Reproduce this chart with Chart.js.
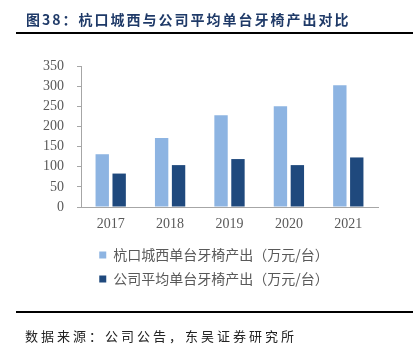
<!DOCTYPE html>
<html>
<head>
<meta charset="utf-8">
<script src="https://cdn.jsdelivr.net/npm/chart.js@4/dist/chart.umd.min.js"></script>
<style>
  html, body { margin: 0; padding: 0; background: #fff; }
  #wrap { position: relative; width: 416px; height: 351px; overflow: hidden; }
  #wrap canvas { position: absolute; left: 0; top: 0; }
  .title { position: absolute; left: 26px; top: 9px; font: bold 14px "Noto Sans CJK SC", sans-serif; letter-spacing: 2px; color: #1F3A68; white-space: nowrap; }
  .rule { position: absolute; left: 16px; width: 397px; height: 2px; background: #000; }
  .source { position: absolute; left: 25px; top: 326px; font: 13px "Noto Sans CJK SC", sans-serif; letter-spacing: 3px; color: #222; white-space: nowrap; }
</style>
</head>
<body>
<div id="wrap">
  <canvas id="chart" width="416" height="351"></canvas>
  <div class="title">图38：杭口城西与公司平均单台牙椅产出对比</div>
  <div class="rule" style="top:32px"></div>
  <div class="rule" style="top:311px"></div>
  <div class="source">数据来源：公司公告，东吴证券研究所</div>
</div>
<script>
const years = ["2017", "2018", "2019", "2020", "2021"];
const hangkouOutput = [131, 171, 228, 250, 302];
const companyOutput = [83, 104, 119, 104, 123];
const yTicks = [0, 50, 100, 150, 200, 250, 300, 350];

const axisGray = "#A6A6A6";
const tickFont = { family: "'Liberation Serif', 'Times New Roman', serif", size: 14 };

// legend sits a little right of the canvas centre in the original
const nudgeLegend = {
  id: "nudgeLegend",
  afterLayout(chart) {
    chart.legend.left += 4;
    chart.legend.right += 4;
  },
};

new Chart(document.getElementById("chart").getContext("2d"), {
  type: "bar",
  data: {
    labels: years,
    datasets: [
      {
        label: "杭口城西单台牙椅产出（万元/台）",
        data: hangkouOutput,
        backgroundColor: "#8DB4E2",
        categoryPercentage: 0.57,
        barPercentage: 0.79,
      },
      {
        label: "公司平均单台牙椅产出（万元/台）",
        data: companyOutput,
        backgroundColor: "#1F497D",
        categoryPercentage: 0.57,
        barPercentage: 0.79,
      },
    ],
  },
  plugins: [nudgeLegend],
  options: {
    responsive: false,
    animation: false,
    layout: { padding: { left: 42, right: 38, top: 66, bottom: 55 } },
    plugins: {
      tooltip: { enabled: false },
      legend: {
        position: "bottom",
        labels: {
          boxWidth: 7,
          boxHeight: 7,
          padding: 10,
          color: "#595959",
          font: { family: "'Noto Sans CJK SC', sans-serif", size: 14 },
        },
      },
    },
    scales: {
      x: {
        grid: { display: false, drawTicks: false },
        border: { display: true, color: axisGray, width: 1 },
        ticks: { color: "#595959", font: tickFont, padding: 8.6 },
        afterFit: (s) => { s.height = 31; },
      },
      y: {
        min: 0,
        max: 350,
        afterBuildTicks: (s) => { s.ticks = yTicks.map((v) => ({ value: v })); },
        grid: { display: true, drawOnChartArea: false, drawTicks: true, tickLength: 4, color: axisGray },
        border: { display: true, color: axisGray, width: 1 },
        ticks: { color: "#595959", font: tickFont, padding: 13 },
        afterFit: (s) => { s.width = 39; },
      },
    },
  },
});
</script>
</body>
</html>
